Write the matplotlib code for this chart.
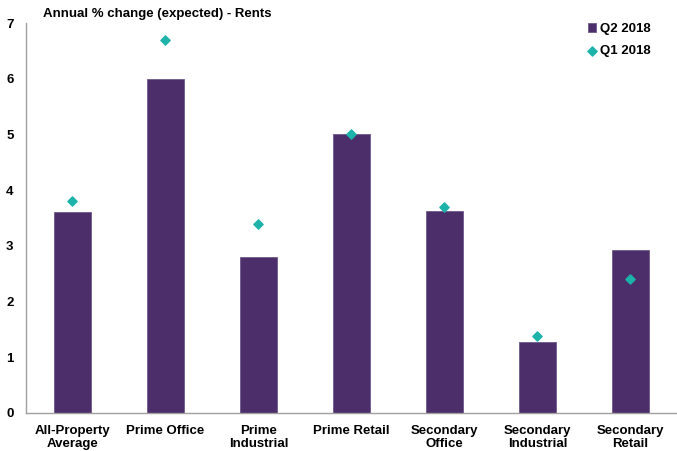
import matplotlib
matplotlib.use("Agg")
import matplotlib.pyplot as plt
import numpy as np

categories = ["All-Property\nAverage", "Prime Office", "Prime\nIndustrial", "Prime Retail",
              "Secondary\nOffice", "Secondary\nIndustrial", "Secondary\nRetail"]
q2_2018 = [3.6, 6.0, 2.8, 5.0, 3.63, 1.27, 2.92]
q1_2018 = [3.8, 6.7, 3.4, 5.0, 3.7, 1.39, 2.4]
yticks = [0, 1, 2, 3, 4, 5, 6, 7]

plt.rcParams['font.family'] = ['Liberation Sans', 'DejaVu Sans']
plt.rcParams['font.weight'] = 'bold'

fig = plt.figure(figsize=(6.77, 4.51), dpi=100)
ax = fig.add_axes([0.0384, 0.0843, 0.9616, 0.8647])

x = np.arange(len(categories))
bars = ax.bar(x, q2_2018, width=0.4, color="#4B2E6A", edgecolor="#6F5A8A", linewidth=0.6,
              label="Q2 2018", zorder=2)
pts = ax.scatter(x, q1_2018, marker="D", s=22, color="#1DB3AA", label="Q1 2018", zorder=3)

ax.set_xlim(-0.5, len(categories) - 0.5)
ax.set_ylim(0, 7)
ax.set_yticks(yticks)
ax.set_yticklabels([str(t) for t in yticks], fontsize=9.5, fontweight='bold')
ax.set_xticks(x)
ax.set_xticklabels(categories, fontsize=9.5, fontweight='bold', linespacing=1.1)
ax.tick_params(axis='x', length=0, pad=9)
ax.tick_params(axis='y', length=0, pad=9)

for s in ["top", "right"]:
    ax.spines[s].set_visible(False)
for s in ["left", "bottom"]:
    ax.spines[s].set_color("#A0A0A0")
    ax.spines[s].set_linewidth(1.0)

fig.text(0.064, 0.968, "Annual % change (expected) - Rents", fontsize=9.5, fontweight='bold',
         ha='left', va='center')

leg = ax.legend([bars, pts], ["Q2 2018", "Q1 2018"], loc="upper right",
                bbox_to_anchor=(0.977, 1.031), frameon=False,
                handlelength=0.6, handletextpad=0.3, labelspacing=0.75,
                prop={'weight': 'bold', 'size': 9.5})

fig.savefig("out.png", dpi=100)
